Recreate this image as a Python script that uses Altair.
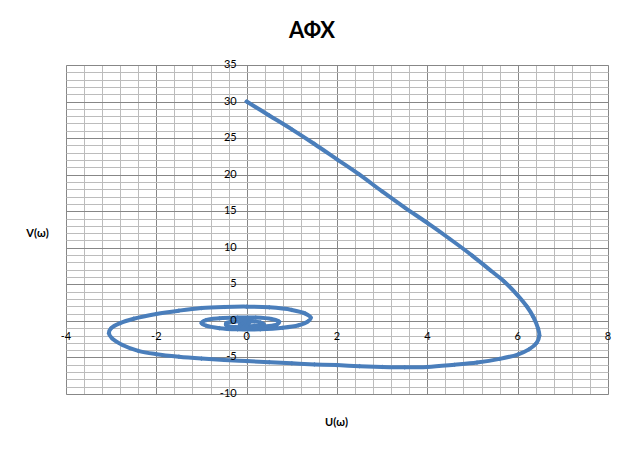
import altair as alt
import pandas as pd

# Nyquist-style curve (U(ω), V(ω))
u_vals = [0.0, 0.5, 1.0, 1.5, 2.0, 2.5, 3.0, 3.5, 4.0, 4.5, 5.0, 5.4, 5.7, 6.0, 6.2, 6.35,
          6.45, 6.48, 6.42, 6.25, 6.0, 5.6, 5.1, 4.6, 4.0, 3.5, 3.0, 2.5, 2.0, 1.5, 1.0, 0.5,
          0.0, -0.5, -1.0, -1.5, -2.0, -2.4, -2.75, -2.98, -3.05, -3.0, -2.8, -2.5, -2.0,
          -1.5, -1.0, -0.5, 0.0, 0.5, 1.0, 1.3, 1.42, 1.35, 1.15, 0.8, 0.3, -0.2, -0.6,
          -0.9, -1.0, -0.9, -0.6, -0.2, 0.2, 0.55, 0.72, 0.68, 0.45, 0.1, -0.25, -0.45,
          -0.45, -0.25, 0.05, 0.3, 0.38, 0.25, 0.0, -0.15, -0.1, 0.05]
v_vals = [30.0, 28.1, 26.2, 24.2, 22.1, 20.0, 17.7, 15.5, 13.4, 11.2, 8.9, 6.9, 5.4, 3.5,
          2.0, 0.5, -1.0, -2.0, -3.0, -3.9, -4.6, -5.2, -5.7, -6.0, -6.3, -6.35, -6.3, -6.2,
          -6.05, -5.95, -5.8, -5.65, -5.5, -5.35, -5.15, -4.9, -4.55, -4.1, -3.3, -2.4,
          -1.7, -1.0, -0.3, 0.3, 0.95, 1.4, 1.75, 1.9, 1.95, 1.85, 1.5, 1.0, 0.45, -0.1,
          -0.6, -0.95, -1.15, -1.15, -1.0, -0.65, -0.3, 0.1, 0.35, 0.45, 0.45, 0.25, -0.1,
          -0.45, -0.75, -0.9, -0.85, -0.6, -0.3, -0.1, -0.05, -0.2, -0.45, -0.65, -0.7,
          -0.55, -0.35, -0.3]

x_minor = [round(-4 + 0.4 * i, 1) for i in range(31)]
y_minor = list(range(-10, 36))
x_major = [-4, -2, 0, 2, 4, 6, 8]
y_major = [-10, -5, 0, 5, 10, 15, 20, 25, 30, 35]

title_text = "АФХ"
x_title = "U(ω)"
y_title = "V(ω)"

df = pd.DataFrame({"u": u_vals, "v": v_vals, "i": list(range(len(u_vals)))})
x_lab_df = pd.DataFrame({"u": x_major, "v": [0] * len(x_major), "t": [str(t) for t in x_major]})
y_lab_df = pd.DataFrame({"u": [0] * len(y_major), "v": y_major, "t": [str(t) for t in y_major]})

W, H = 542, 329

major_c = "#878787"
minor_c = "#bcbcbc"
font = "Lato"
blue = "#4a7ebb"

xs = alt.Scale(domain=[-4, 8], nice=False, zero=False)
ys = alt.Scale(domain=[-10, 35], nice=False, zero=False)

grid_x_axis = alt.Axis(
    values=x_minor, grid=True, labels=False, ticks=False, domain=False,
    gridColor={"condition": {"test": "abs(datum.value % 2) < 0.001", "value": major_c}, "value": minor_c},
    gridWidth=1, orient="bottom",
    title=x_title, titleFont=font, titleFontSize=11, titleFontWeight="bold",
    titleColor="#000000", titleX=270, titleY=422 - 65 - H,
    titleAlign="center", titleBaseline="middle",
)
grid_y_axis = alt.Axis(
    values=y_minor, grid=True, labels=False, ticks=False, domain=False,
    gridColor={"condition": {"test": "abs(datum.value % 5) < 0.001", "value": major_c}, "value": minor_c},
    gridWidth=1, orient="left",
    title=y_title, titleFont=font, titleFontSize=11, titleFontWeight="bold",
    titleColor="#000000", titleAngle=0, titleX=37 - 66, titleY=233 - 65,
    titleAlign="center", titleBaseline="middle",
)

base = alt.Chart(df)

curve = base.mark_line(
    color=blue, strokeWidth=4, strokeJoin="round", strokeCap="round", interpolate="catmull-rom",
).encode(
    x=alt.X("u:Q", scale=xs, axis=grid_x_axis),
    y=alt.Y("v:Q", scale=ys, axis=grid_y_axis),
    order="i:O",
)

points = base.mark_point(shape="diamond", size=22, filled=True, color=blue, opacity=1).encode(
    x=alt.X("u:Q", scale=xs, axis=None),
    y=alt.Y("v:Q", scale=ys, axis=None),
)

x_labels = alt.Chart(x_lab_df).mark_text(
    font=font, fontSize=11, color="#000000", align="center", baseline="middle", dy=16,
).encode(x=alt.X("u:Q", scale=xs, axis=None), y=alt.Y("v:Q", scale=ys, axis=None), text="t:N")

y_labels = alt.Chart(y_lab_df).mark_text(
    font=font, fontSize=11, color="#000000", align="right", baseline="middle", dx=-10,
).encode(x=alt.X("u:Q", scale=xs, axis=None), y=alt.Y("v:Q", scale=ys, axis=None), text="t:N")

chart = alt.layer(curve, points, x_labels, y_labels).resolve_axis(
    x="independent", y="independent"
).properties(
    width=W,
    height=H,
    autosize=alt.AutoSizeParams(type="none"),
    padding={"left": 58, "top": 57, "right": 8, "bottom": 40},
    title=alt.TitleParams(title_text, font=font, fontSize=22, fontWeight="bold",
                          color="#000000", dx=-25, offset=16),
).configure_view(stroke=major_c, strokeWidth=1).configure(background="white")

chart.save("out.html", embed_options={"renderer": "svg", "actions": False})
